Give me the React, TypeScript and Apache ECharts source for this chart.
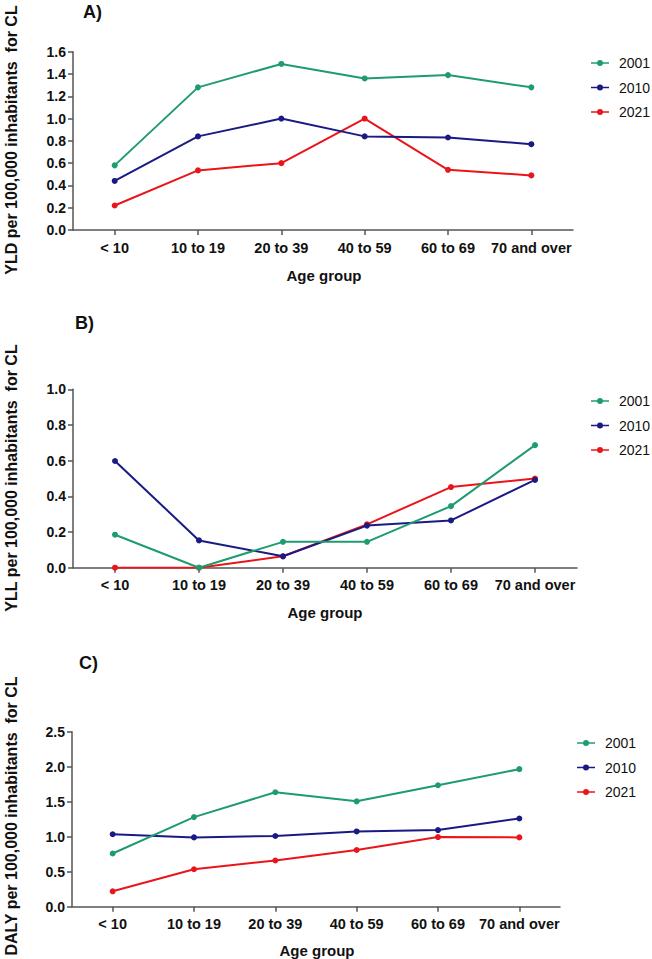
import React, { useEffect, useRef } from "react";
import * as echarts from "echarts";

const ageGroups = ["< 10", "10 to 19", "20 to 39", "40 to 59", "60 to 69", "70 and over"];
const years = ["2001", "2010", "2021"];

const yld2001 = [0.58, 1.28, 1.49, 1.36, 1.39, 1.28];
const yld2010 = [0.44, 0.84, 1.0, 0.84, 0.83, 0.77];
const yld2021 = [0.22, 0.535, 0.6, 1.0, 0.54, 0.49];

const yll2001 = [0.185, 0.0, 0.145, 0.145, 0.345, 0.687];
const yll2010 = [0.598, 0.153, 0.064, 0.236, 0.265, 0.492];
const yll2021 = [0.0, 0.0, 0.064, 0.243, 0.452, 0.5];

const daly2001 = [0.76, 1.28, 1.635, 1.505, 1.735, 1.965];
const daly2010 = [1.035, 0.99, 1.01, 1.075, 1.095, 1.26];
const daly2021 = [0.22, 0.535, 0.66, 0.81, 0.995, 0.99];

const yTitles = [
  "YLD per 100,000 inhabitants  for CL",
  "YLL per 100,000 inhabitants  for CL",
  "DALY per 100,000 inhabitants  for CL",
];
const panelLabels = ["A)", "B)", "C)"];
const xTitle = "Age group";

const colors = ["#1f9c6e", "#1a1a84", "#e8161b"];

// legend icon: short line with a dot in the middle (18 x 6 box)
const legendIcon = "path://M0,2.3 H18 V3.7 H0 Z M12,3 A3,3 0 1 1 6,3 A3,3 0 1 1 12,3 Z";

export default function App() {
  const ref = useRef<HTMLDivElement>(null);
  useEffect(() => {
    document.body.style.margin = "0";
    if (!ref.current) return;
    const chart = echarts.init(ref.current, undefined, { renderer: "svg" });
    const font = "'Liberation Sans', Arial, Helvetica, sans-serif";

    const grids = [
      { left: 73, right: 79, top: 51.7, height: 178.3 },
      { left: 73, right: 75, top: 389.3, height: 178.4 },
      { left: 72, right: 92, top: 731.7, height: 175 },
    ];
    const yRanges = [
      { max: 1.6, interval: 0.2 },
      { max: 1.0, interval: 0.2 },
      { max: 2.5, interval: 0.5 },
    ];
    const data = [
      [yld2001, yld2010, yld2021],
      [yll2001, yll2010, yll2021],
      [daly2001, daly2010, daly2021],
    ];
    const legendPos = [
      { left: 591, top: 55 },
      { left: 591, top: 393 },
      { left: 577, top: 735 },
    ];
    const titlePos = [
      { x: 83, y: 12 },
      { x: 75, y: 323 },
      { x: 79, y: 663 },
    ];
    const yTitlePos = [
      { x: 11, y: 140 },
      { x: 11, y: 478 },
      { x: 11, y: 816 },
    ];
    const xTitlePos = [
      { x: 324, y: 275 },
      { x: 325, y: 612 },
      { x: 317, y: 950 },
    ];

    const axisLine = { show: true, lineStyle: { color: "#555", width: 1.5 } };
    const labelStyle = { color: "#111", fontWeight: "bold" as const, fontSize: 14, fontFamily: font };

    const series: any[] = [];
    data.forEach((panel, p) => {
      panel.forEach((vals, i) => {
        series.push({
          type: "line",
          name: years[i],
          xAxisIndex: p,
          yAxisIndex: p,
          data: vals,
          symbol: "circle",
          symbolSize: 6,
          lineStyle: { width: 2, color: colors[i] },
          itemStyle: { color: colors[i] },
          z: 3 - i,
        });
      });
    });

    const graphic: any[] = [];
    for (let p = 0; p < 3; p++) {
      graphic.push({
        type: "text",
        x: titlePos[p].x,
        y: titlePos[p].y,
        style: { text: panelLabels[p], font: `bold 18px ${font}`, fill: "#111", textVerticalAlign: "middle" },
      });
      graphic.push({
        type: "text",
        x: yTitlePos[p].x,
        y: yTitlePos[p].y,
        rotation: Math.PI / 2,
        style: {
          text: yTitles[p],
          font: `bold 16px ${font}`,
          fill: "#111",
          textAlign: "center",
          textVerticalAlign: "middle",
        },
      });
      graphic.push({
        type: "text",
        x: xTitlePos[p].x,
        y: xTitlePos[p].y,
        style: {
          text: xTitle,
          font: `bold 15px ${font}`,
          fill: "#111",
          textAlign: "center",
          textVerticalAlign: "middle",
        },
      });
    }

    chart.setOption({
      animation: false,
      backgroundColor: "#fff",
      color: colors,
      grid: grids,
      xAxis: grids.map((_, p) => ({
        type: "category",
        gridIndex: p,
        data: ageGroups,
        boundaryGap: true,
        axisLine,
        axisTick: { show: true, alignWithLabel: true, length: 5, lineStyle: { color: "#555", width: 1.5 } },
        axisLabel: { ...labelStyle, fontSize: 14.5, margin: 10, interval: 0 },
        splitLine: { show: false },
      })),
      yAxis: grids.map((_, p) => ({
        type: "value",
        gridIndex: p,
        min: 0,
        max: yRanges[p].max,
        interval: yRanges[p].interval,
        axisLine,
        axisTick: { show: true, length: 5, lineStyle: { color: "#555", width: 1.5 } },
        axisLabel: { ...labelStyle, margin: 7, formatter: (v: number) => v.toFixed(1) },
        splitLine: { show: false },
      })),
      legend: legendPos.map((lp) => ({
        data: years.map((y) => ({ name: y, icon: legendIcon })),
        orient: "vertical",
        left: lp.left,
        top: lp.top,
        padding: 0,
        itemWidth: 18,
        itemHeight: 6,
        itemGap: 8.5,
        textStyle: { fontSize: 14, color: "#111", fontFamily: font, padding: [0, 0, 0, 5], lineHeight: 16 },
        selectedMode: false,
      })),
      graphic,
      series,
    });
    return () => chart.dispose();
  }, []);
  return <div ref={ref} style={{ width: 652, height: 959 }} />;
}
